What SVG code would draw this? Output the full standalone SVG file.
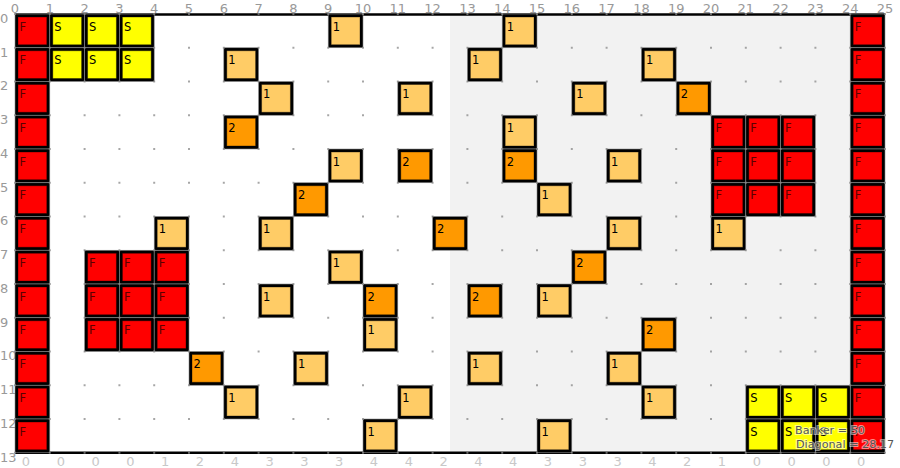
<svg xmlns="http://www.w3.org/2000/svg" width="900" height="468" viewBox="0 0 900 468">
<style>
.ax{font-family:"DejaVu Sans",sans-serif;font-size:13px;fill:#999}
.axb{font-family:"DejaVu Sans",sans-serif;font-size:13px;fill:#c8c8c8;text-anchor:middle}
.top{text-anchor:middle}
.o{fill:#000;stroke:#8a8a8a;stroke-width:0.6}
.i{stroke:#000;stroke-opacity:0.35;stroke-width:1}
.F{fill:#ff0000}.S{fill:#ffff00}.A{fill:#ffcc66}.B{fill:#ff9900}
.t{font-family:"DejaVu Sans",sans-serif;font-size:11.5px;fill:#000}
.tF{fill:#5a0000}
.info{font-family:"DejaVu Sans",sans-serif;font-size:11.2px;fill:#555;stroke:#fff;stroke-opacity:0.55;stroke-width:2;paint-order:stroke}
</style>
<defs>
<g id="cell"><rect class="o" width="34.8" height="33.75"/></g>
<pattern id="dots" patternUnits="userSpaceOnUse" x="15" y="14" width="34.8" height="33.75">
<circle cx="0" cy="0" r="1" fill="#888"/><circle cx="34.8" cy="0" r="1" fill="#888"/><circle cx="0" cy="33.75" r="1" fill="#888"/><circle cx="34.8" cy="33.75" r="1" fill="#888"/>
</pattern>
</defs>
<rect width="900" height="468" fill="#fff"/>
<rect x="450" y="14" width="435" height="438.75" fill="#f2f2f2"/>
<g id="frame" stroke="#000" stroke-width="2.5">
<line x1="15" y1="14.5" x2="885" y2="14.5"/>
<line x1="15" y1="452.8" x2="885" y2="452.8"/>
</g>
<g id="axis-top" class="ax top">
<text x="15" y="13">0</text><text x="49.8" y="13">1</text><text x="84.6" y="13">2</text><text x="119.4" y="13">3</text><text x="154.2" y="13">4</text><text x="189" y="13">5</text><text x="223.8" y="13">6</text><text x="258.6" y="13">7</text><text x="293.4" y="13">8</text><text x="328.2" y="13">9</text><text x="363" y="13">10</text><text x="397.8" y="13">11</text><text x="432.6" y="13">12</text><text x="467.4" y="13">13</text><text x="502.2" y="13">14</text><text x="537" y="13">15</text><text x="571.8" y="13">16</text><text x="606.6" y="13">17</text><text x="641.4" y="13">18</text><text x="676.2" y="13">19</text><text x="711" y="13">20</text><text x="745.8" y="13">21</text><text x="780.6" y="13">22</text><text x="815.4" y="13">23</text><text x="850.2" y="13">24</text><text x="885" y="13">25</text>
</g>
<g id="axis-left" class="ax">
<text x="0" y="23">0</text><text x="0" y="56.5">1</text><text x="0" y="90.3">2</text><text x="0" y="124">3</text><text x="0" y="157.8">4</text><text x="0" y="191.5">5</text><text x="0" y="225.3">6</text><text x="0" y="259">7</text><text x="0" y="292.8">8</text><text x="0" y="326.5">9</text><text x="0" y="360.3">10</text><text x="0" y="394">11</text><text x="0" y="427.8">12</text><text x="0" y="461.5">13</text>
</g>
<g id="axis-bottom" class="axb">
<text x="26" y="466">0</text><text x="60.8" y="466">0</text><text x="95.6" y="466">0</text><text x="130.4" y="466">0</text><text x="165.2" y="466">1</text><text x="200" y="466">2</text><text x="234.8" y="466">4</text><text x="269.6" y="466">3</text><text x="304.4" y="466">3</text><text x="339.2" y="466">3</text><text x="374" y="466">4</text><text x="408.8" y="466">4</text><text x="443.6" y="466">2</text><text x="478.4" y="466">4</text><text x="513.2" y="466">4</text><text x="548" y="466">3</text><text x="582.8" y="466">3</text><text x="617.6" y="466">3</text><text x="652.4" y="466">4</text><text x="687.2" y="466">2</text><text x="722" y="466">1</text><text x="756.8" y="466">0</text><text x="791.6" y="466">0</text><text x="826.4" y="466">0</text><text x="861.2" y="466">0</text>
</g>
<g id="cells">
<g id="r0c0" transform="translate(15,14)"><use href="#cell"/><rect class="i F" x="3" y="3" width="28.8" height="27.75"/><text class="t tF" x="4.5" y="16.5">F</text></g>
<g id="r1c0" transform="translate(15,47.75)"><use href="#cell"/><rect class="i F" x="3" y="3" width="28.8" height="27.75"/><text class="t tF" x="4.5" y="16.5">F</text></g>
<g id="r2c0" transform="translate(15,81.5)"><use href="#cell"/><rect class="i F" x="3" y="3" width="28.8" height="27.75"/><text class="t tF" x="4.5" y="16.5">F</text></g>
<g id="r3c0" transform="translate(15,115.25)"><use href="#cell"/><rect class="i F" x="3" y="3" width="28.8" height="27.75"/><text class="t tF" x="4.5" y="16.5">F</text></g>
<g id="r4c0" transform="translate(15,149)"><use href="#cell"/><rect class="i F" x="3" y="3" width="28.8" height="27.75"/><text class="t tF" x="4.5" y="16.5">F</text></g>
<g id="r5c0" transform="translate(15,182.75)"><use href="#cell"/><rect class="i F" x="3" y="3" width="28.8" height="27.75"/><text class="t tF" x="4.5" y="16.5">F</text></g>
<g id="r6c0" transform="translate(15,216.5)"><use href="#cell"/><rect class="i F" x="3" y="3" width="28.8" height="27.75"/><text class="t tF" x="4.5" y="16.5">F</text></g>
<g id="r7c0" transform="translate(15,250.25)"><use href="#cell"/><rect class="i F" x="3" y="3" width="28.8" height="27.75"/><text class="t tF" x="4.5" y="16.5">F</text></g>
<g id="r8c0" transform="translate(15,284)"><use href="#cell"/><rect class="i F" x="3" y="3" width="28.8" height="27.75"/><text class="t tF" x="4.5" y="16.5">F</text></g>
<g id="r9c0" transform="translate(15,317.75)"><use href="#cell"/><rect class="i F" x="3" y="3" width="28.8" height="27.75"/><text class="t tF" x="4.5" y="16.5">F</text></g>
<g id="r10c0" transform="translate(15,351.5)"><use href="#cell"/><rect class="i F" x="3" y="3" width="28.8" height="27.75"/><text class="t tF" x="4.5" y="16.5">F</text></g>
<g id="r11c0" transform="translate(15,385.25)"><use href="#cell"/><rect class="i F" x="3" y="3" width="28.8" height="27.75"/><text class="t tF" x="4.5" y="16.5">F</text></g>
<g id="r12c0" transform="translate(15,419)"><use href="#cell"/><rect class="i F" x="3" y="3" width="28.8" height="27.75"/><text class="t tF" x="4.5" y="16.5">F</text></g>
<g id="r0c24" transform="translate(850.2,14)"><use href="#cell"/><rect class="i F" x="3" y="3" width="28.8" height="27.75"/><text class="t tF" x="4.5" y="16.5">F</text></g>
<g id="r1c24" transform="translate(850.2,47.75)"><use href="#cell"/><rect class="i F" x="3" y="3" width="28.8" height="27.75"/><text class="t tF" x="4.5" y="16.5">F</text></g>
<g id="r2c24" transform="translate(850.2,81.5)"><use href="#cell"/><rect class="i F" x="3" y="3" width="28.8" height="27.75"/><text class="t tF" x="4.5" y="16.5">F</text></g>
<g id="r3c24" transform="translate(850.2,115.25)"><use href="#cell"/><rect class="i F" x="3" y="3" width="28.8" height="27.75"/><text class="t tF" x="4.5" y="16.5">F</text></g>
<g id="r4c24" transform="translate(850.2,149)"><use href="#cell"/><rect class="i F" x="3" y="3" width="28.8" height="27.75"/><text class="t tF" x="4.5" y="16.5">F</text></g>
<g id="r5c24" transform="translate(850.2,182.75)"><use href="#cell"/><rect class="i F" x="3" y="3" width="28.8" height="27.75"/><text class="t tF" x="4.5" y="16.5">F</text></g>
<g id="r6c24" transform="translate(850.2,216.5)"><use href="#cell"/><rect class="i F" x="3" y="3" width="28.8" height="27.75"/><text class="t tF" x="4.5" y="16.5">F</text></g>
<g id="r7c24" transform="translate(850.2,250.25)"><use href="#cell"/><rect class="i F" x="3" y="3" width="28.8" height="27.75"/><text class="t tF" x="4.5" y="16.5">F</text></g>
<g id="r8c24" transform="translate(850.2,284)"><use href="#cell"/><rect class="i F" x="3" y="3" width="28.8" height="27.75"/><text class="t tF" x="4.5" y="16.5">F</text></g>
<g id="r9c24" transform="translate(850.2,317.75)"><use href="#cell"/><rect class="i F" x="3" y="3" width="28.8" height="27.75"/><text class="t tF" x="4.5" y="16.5">F</text></g>
<g id="r10c24" transform="translate(850.2,351.5)"><use href="#cell"/><rect class="i F" x="3" y="3" width="28.8" height="27.75"/><text class="t tF" x="4.5" y="16.5">F</text></g>
<g id="r11c24" transform="translate(850.2,385.25)"><use href="#cell"/><rect class="i F" x="3" y="3" width="28.8" height="27.75"/><text class="t tF" x="4.5" y="16.5">F</text></g>
<g id="r12c24" transform="translate(850.2,419)"><use href="#cell"/><rect class="i F" x="3" y="3" width="28.8" height="27.75"/><text class="t tF" x="4.5" y="16.5">F</text></g>
<g id="r3c20" transform="translate(711,115.25)"><use href="#cell"/><rect class="i F" x="3" y="3" width="28.8" height="27.75"/><text class="t tF" x="4.5" y="16.5">F</text></g>
<g id="r3c21" transform="translate(745.8,115.25)"><use href="#cell"/><rect class="i F" x="3" y="3" width="28.8" height="27.75"/><text class="t tF" x="4.5" y="16.5">F</text></g>
<g id="r3c22" transform="translate(780.6,115.25)"><use href="#cell"/><rect class="i F" x="3" y="3" width="28.8" height="27.75"/><text class="t tF" x="4.5" y="16.5">F</text></g>
<g id="r4c20" transform="translate(711,149)"><use href="#cell"/><rect class="i F" x="3" y="3" width="28.8" height="27.75"/><text class="t tF" x="4.5" y="16.5">F</text></g>
<g id="r4c21" transform="translate(745.8,149)"><use href="#cell"/><rect class="i F" x="3" y="3" width="28.8" height="27.75"/><text class="t tF" x="4.5" y="16.5">F</text></g>
<g id="r4c22" transform="translate(780.6,149)"><use href="#cell"/><rect class="i F" x="3" y="3" width="28.8" height="27.75"/><text class="t tF" x="4.5" y="16.5">F</text></g>
<g id="r5c20" transform="translate(711,182.75)"><use href="#cell"/><rect class="i F" x="3" y="3" width="28.8" height="27.75"/><text class="t tF" x="4.5" y="16.5">F</text></g>
<g id="r5c21" transform="translate(745.8,182.75)"><use href="#cell"/><rect class="i F" x="3" y="3" width="28.8" height="27.75"/><text class="t tF" x="4.5" y="16.5">F</text></g>
<g id="r5c22" transform="translate(780.6,182.75)"><use href="#cell"/><rect class="i F" x="3" y="3" width="28.8" height="27.75"/><text class="t tF" x="4.5" y="16.5">F</text></g>
<g id="r7c2" transform="translate(84.6,250.25)"><use href="#cell"/><rect class="i F" x="3" y="3" width="28.8" height="27.75"/><text class="t tF" x="4.5" y="16.5">F</text></g>
<g id="r7c3" transform="translate(119.4,250.25)"><use href="#cell"/><rect class="i F" x="3" y="3" width="28.8" height="27.75"/><text class="t tF" x="4.5" y="16.5">F</text></g>
<g id="r7c4" transform="translate(154.2,250.25)"><use href="#cell"/><rect class="i F" x="3" y="3" width="28.8" height="27.75"/><text class="t tF" x="4.5" y="16.5">F</text></g>
<g id="r8c2" transform="translate(84.6,284)"><use href="#cell"/><rect class="i F" x="3" y="3" width="28.8" height="27.75"/><text class="t tF" x="4.5" y="16.5">F</text></g>
<g id="r8c3" transform="translate(119.4,284)"><use href="#cell"/><rect class="i F" x="3" y="3" width="28.8" height="27.75"/><text class="t tF" x="4.5" y="16.5">F</text></g>
<g id="r8c4" transform="translate(154.2,284)"><use href="#cell"/><rect class="i F" x="3" y="3" width="28.8" height="27.75"/><text class="t tF" x="4.5" y="16.5">F</text></g>
<g id="r9c2" transform="translate(84.6,317.75)"><use href="#cell"/><rect class="i F" x="3" y="3" width="28.8" height="27.75"/><text class="t tF" x="4.5" y="16.5">F</text></g>
<g id="r9c3" transform="translate(119.4,317.75)"><use href="#cell"/><rect class="i F" x="3" y="3" width="28.8" height="27.75"/><text class="t tF" x="4.5" y="16.5">F</text></g>
<g id="r9c4" transform="translate(154.2,317.75)"><use href="#cell"/><rect class="i F" x="3" y="3" width="28.8" height="27.75"/><text class="t tF" x="4.5" y="16.5">F</text></g>
<g id="r0c1" transform="translate(49.8,14)"><use href="#cell"/><rect class="i S" x="3" y="3" width="28.8" height="27.75"/><text class="t" x="4.5" y="16.5">S</text></g>
<g id="r0c2" transform="translate(84.6,14)"><use href="#cell"/><rect class="i S" x="3" y="3" width="28.8" height="27.75"/><text class="t" x="4.5" y="16.5">S</text></g>
<g id="r0c3" transform="translate(119.4,14)"><use href="#cell"/><rect class="i S" x="3" y="3" width="28.8" height="27.75"/><text class="t" x="4.5" y="16.5">S</text></g>
<g id="r1c1" transform="translate(49.8,47.75)"><use href="#cell"/><rect class="i S" x="3" y="3" width="28.8" height="27.75"/><text class="t" x="4.5" y="16.5">S</text></g>
<g id="r1c2" transform="translate(84.6,47.75)"><use href="#cell"/><rect class="i S" x="3" y="3" width="28.8" height="27.75"/><text class="t" x="4.5" y="16.5">S</text></g>
<g id="r1c3" transform="translate(119.4,47.75)"><use href="#cell"/><rect class="i S" x="3" y="3" width="28.8" height="27.75"/><text class="t" x="4.5" y="16.5">S</text></g>
<g id="r11c21" transform="translate(745.8,385.25)"><use href="#cell"/><rect class="i S" x="3" y="3" width="28.8" height="27.75"/><text class="t" x="4.5" y="16.5">S</text></g>
<g id="r11c22" transform="translate(780.6,385.25)"><use href="#cell"/><rect class="i S" x="3" y="3" width="28.8" height="27.75"/><text class="t" x="4.5" y="16.5">S</text></g>
<g id="r11c23" transform="translate(815.4,385.25)"><use href="#cell"/><rect class="i S" x="3" y="3" width="28.8" height="27.75"/><text class="t" x="4.5" y="16.5">S</text></g>
<g id="r12c21" transform="translate(745.8,419)"><use href="#cell"/><rect class="i S" x="3" y="3" width="28.8" height="27.75"/><text class="t" x="4.5" y="16.5">S</text></g>
<g id="r12c22" transform="translate(780.6,419)"><use href="#cell"/><rect class="i S" x="3" y="3" width="28.8" height="27.75"/><text class="t" x="4.5" y="16.5">S</text></g>
<g id="r12c23" transform="translate(815.4,419)"><use href="#cell"/><rect class="i S" x="3" y="3" width="28.8" height="27.75"/><text class="t" x="4.5" y="16.5">S</text></g>
<g id="r0c9" transform="translate(328.2,14)"><use href="#cell"/><rect class="i A" x="3" y="3" width="28.8" height="27.75"/><text class="t" x="4.5" y="16.5">1</text></g>
<g id="r0c14" transform="translate(502.2,14)"><use href="#cell"/><rect class="i A" x="3" y="3" width="28.8" height="27.75"/><text class="t" x="4.5" y="16.5">1</text></g>
<g id="r1c6" transform="translate(223.8,47.75)"><use href="#cell"/><rect class="i A" x="3" y="3" width="28.8" height="27.75"/><text class="t" x="4.5" y="16.5">1</text></g>
<g id="r1c13" transform="translate(467.4,47.75)"><use href="#cell"/><rect class="i A" x="3" y="3" width="28.8" height="27.75"/><text class="t" x="4.5" y="16.5">1</text></g>
<g id="r1c18" transform="translate(641.4,47.75)"><use href="#cell"/><rect class="i A" x="3" y="3" width="28.8" height="27.75"/><text class="t" x="4.5" y="16.5">1</text></g>
<g id="r2c7" transform="translate(258.6,81.5)"><use href="#cell"/><rect class="i A" x="3" y="3" width="28.8" height="27.75"/><text class="t" x="4.5" y="16.5">1</text></g>
<g id="r2c11" transform="translate(397.8,81.5)"><use href="#cell"/><rect class="i A" x="3" y="3" width="28.8" height="27.75"/><text class="t" x="4.5" y="16.5">1</text></g>
<g id="r2c16" transform="translate(571.8,81.5)"><use href="#cell"/><rect class="i A" x="3" y="3" width="28.8" height="27.75"/><text class="t" x="4.5" y="16.5">1</text></g>
<g id="r3c14" transform="translate(502.2,115.25)"><use href="#cell"/><rect class="i A" x="3" y="3" width="28.8" height="27.75"/><text class="t" x="4.5" y="16.5">1</text></g>
<g id="r4c9" transform="translate(328.2,149)"><use href="#cell"/><rect class="i A" x="3" y="3" width="28.8" height="27.75"/><text class="t" x="4.5" y="16.5">1</text></g>
<g id="r4c17" transform="translate(606.6,149)"><use href="#cell"/><rect class="i A" x="3" y="3" width="28.8" height="27.75"/><text class="t" x="4.5" y="16.5">1</text></g>
<g id="r5c15" transform="translate(537,182.75)"><use href="#cell"/><rect class="i A" x="3" y="3" width="28.8" height="27.75"/><text class="t" x="4.5" y="16.5">1</text></g>
<g id="r6c4" transform="translate(154.2,216.5)"><use href="#cell"/><rect class="i A" x="3" y="3" width="28.8" height="27.75"/><text class="t" x="4.5" y="16.5">1</text></g>
<g id="r6c7" transform="translate(258.6,216.5)"><use href="#cell"/><rect class="i A" x="3" y="3" width="28.8" height="27.75"/><text class="t" x="4.5" y="16.5">1</text></g>
<g id="r6c17" transform="translate(606.6,216.5)"><use href="#cell"/><rect class="i A" x="3" y="3" width="28.8" height="27.75"/><text class="t" x="4.5" y="16.5">1</text></g>
<g id="r6c20" transform="translate(711,216.5)"><use href="#cell"/><rect class="i A" x="3" y="3" width="28.8" height="27.75"/><text class="t" x="4.5" y="16.5">1</text></g>
<g id="r7c9" transform="translate(328.2,250.25)"><use href="#cell"/><rect class="i A" x="3" y="3" width="28.8" height="27.75"/><text class="t" x="4.5" y="16.5">1</text></g>
<g id="r8c7" transform="translate(258.6,284)"><use href="#cell"/><rect class="i A" x="3" y="3" width="28.8" height="27.75"/><text class="t" x="4.5" y="16.5">1</text></g>
<g id="r8c15" transform="translate(537,284)"><use href="#cell"/><rect class="i A" x="3" y="3" width="28.8" height="27.75"/><text class="t" x="4.5" y="16.5">1</text></g>
<g id="r9c10" transform="translate(363,317.75)"><use href="#cell"/><rect class="i A" x="3" y="3" width="28.8" height="27.75"/><text class="t" x="4.5" y="16.5">1</text></g>
<g id="r10c8" transform="translate(293.4,351.5)"><use href="#cell"/><rect class="i A" x="3" y="3" width="28.8" height="27.75"/><text class="t" x="4.5" y="16.5">1</text></g>
<g id="r10c13" transform="translate(467.4,351.5)"><use href="#cell"/><rect class="i A" x="3" y="3" width="28.8" height="27.75"/><text class="t" x="4.5" y="16.5">1</text></g>
<g id="r10c17" transform="translate(606.6,351.5)"><use href="#cell"/><rect class="i A" x="3" y="3" width="28.8" height="27.75"/><text class="t" x="4.5" y="16.5">1</text></g>
<g id="r11c6" transform="translate(223.8,385.25)"><use href="#cell"/><rect class="i A" x="3" y="3" width="28.8" height="27.75"/><text class="t" x="4.5" y="16.5">1</text></g>
<g id="r11c11" transform="translate(397.8,385.25)"><use href="#cell"/><rect class="i A" x="3" y="3" width="28.8" height="27.75"/><text class="t" x="4.5" y="16.5">1</text></g>
<g id="r11c18" transform="translate(641.4,385.25)"><use href="#cell"/><rect class="i A" x="3" y="3" width="28.8" height="27.75"/><text class="t" x="4.5" y="16.5">1</text></g>
<g id="r12c10" transform="translate(363,419)"><use href="#cell"/><rect class="i A" x="3" y="3" width="28.8" height="27.75"/><text class="t" x="4.5" y="16.5">1</text></g>
<g id="r12c15" transform="translate(537,419)"><use href="#cell"/><rect class="i A" x="3" y="3" width="28.8" height="27.75"/><text class="t" x="4.5" y="16.5">1</text></g>
<g id="r2c19" transform="translate(676.2,81.5)"><use href="#cell"/><rect class="i B" x="3" y="3" width="28.8" height="27.75"/><text class="t" x="4.5" y="16.5">2</text></g>
<g id="r3c6" transform="translate(223.8,115.25)"><use href="#cell"/><rect class="i B" x="3" y="3" width="28.8" height="27.75"/><text class="t" x="4.5" y="16.5">2</text></g>
<g id="r4c11" transform="translate(397.8,149)"><use href="#cell"/><rect class="i B" x="3" y="3" width="28.8" height="27.75"/><text class="t" x="4.5" y="16.5">2</text></g>
<g id="r4c14" transform="translate(502.2,149)"><use href="#cell"/><rect class="i B" x="3" y="3" width="28.8" height="27.75"/><text class="t" x="4.5" y="16.5">2</text></g>
<g id="r5c8" transform="translate(293.4,182.75)"><use href="#cell"/><rect class="i B" x="3" y="3" width="28.8" height="27.75"/><text class="t" x="4.5" y="16.5">2</text></g>
<g id="r6c12" transform="translate(432.6,216.5)"><use href="#cell"/><rect class="i B" x="3" y="3" width="28.8" height="27.75"/><text class="t" x="4.5" y="16.5">2</text></g>
<g id="r7c16" transform="translate(571.8,250.25)"><use href="#cell"/><rect class="i B" x="3" y="3" width="28.8" height="27.75"/><text class="t" x="4.5" y="16.5">2</text></g>
<g id="r8c10" transform="translate(363,284)"><use href="#cell"/><rect class="i B" x="3" y="3" width="28.8" height="27.75"/><text class="t" x="4.5" y="16.5">2</text></g>
<g id="r8c13" transform="translate(467.4,284)"><use href="#cell"/><rect class="i B" x="3" y="3" width="28.8" height="27.75"/><text class="t" x="4.5" y="16.5">2</text></g>
<g id="r9c18" transform="translate(641.4,317.75)"><use href="#cell"/><rect class="i B" x="3" y="3" width="28.8" height="27.75"/><text class="t" x="4.5" y="16.5">2</text></g>
<g id="r10c5" transform="translate(189,351.5)"><use href="#cell"/><rect class="i B" x="3" y="3" width="28.8" height="27.75"/><text class="t" x="4.5" y="16.5">2</text></g>
</g>
<g id="connectors"/>
<rect id="grid-dots" x="12" y="11" width="876" height="445" fill="url(#dots)"/>
<g id="info" class="info">
<text x="795" y="434">Banker = 50</text>
<text x="796" y="448">Diagonal = 28.17</text>
</g>
</svg>
